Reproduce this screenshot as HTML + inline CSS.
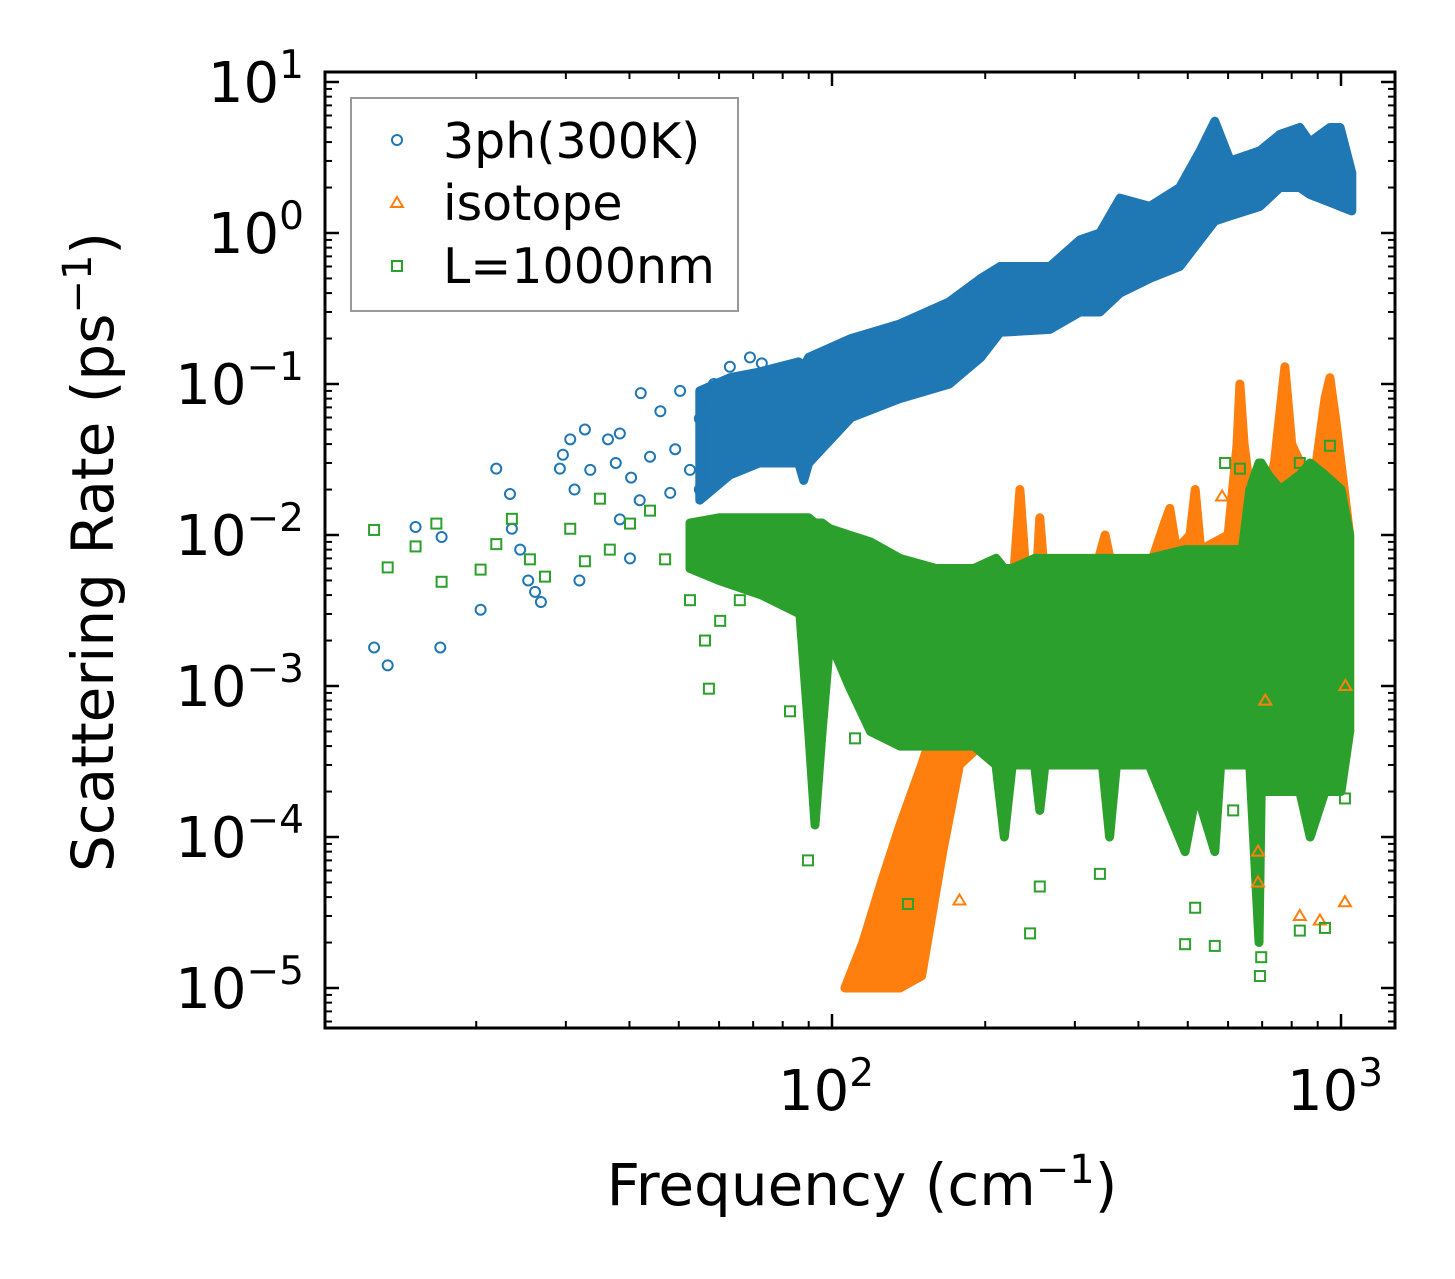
<!DOCTYPE html>
<html><head><meta charset="utf-8"><style>
html,body{margin:0;padding:0;background:#fff;}
svg{display:block;font-family:"DejaVu Sans","Liberation Sans",sans-serif;}
</style></head><body>
<svg id="chart" width="1455" height="1279" viewBox="0 0 1455 1279">
<rect x="0" y="0" width="1455" height="1279" fill="#fff"/>
<g id="bands"></g>
<g id="pts"></g>
<g id="axes"></g>
<text x="862" y="1205" font-size="58" text-anchor="middle">Frequency (cm<tspan dy="-22" font-size="40">−1</tspan><tspan dy="22">)</tspan></text>
<text transform="translate(113,552) rotate(-90)" font-size="58" text-anchor="middle">Scattering Rate (ps<tspan dy="-22" font-size="40">−1</tspan><tspan dy="22">)</tspan></text>
<g>
<rect x="351" y="98" width="387" height="213" fill="#fff" stroke="#999" stroke-width="2"/>
<g>
<circle cx="397" cy="140" r="5" fill="none" stroke="#1f77b4" stroke-width="2"/>
<text x="443" y="158" font-size="49">3ph(300K)</text></g>
<g>
<polygon points="397,197 403,207 391,207" fill="none" stroke="#ff7f0e" stroke-width="2"/>
<text x="443" y="220" font-size="49">isotope</text></g>
<g>
<rect x="392" y="261" width="10" height="10" fill="none" stroke="#2ca02c" stroke-width="2"/>
<text x="443" y="283" font-size="49">L=1000nm</text></g>
</g>
</svg>
<script>
// ---- data ----
const blueFreq=[55,63,72,86,88,90,109,136,170,196,214,268,307,336,368,421,482,529,565,606,693,759,830,869,951,996,1050];
const blueHi=[0.09,0.11,0.12,0.14,0.13,0.15,0.2,0.25,0.35,0.5,0.6,0.6,0.9,1.0,1.7,1.5,2,3.5,5.5,3,3.5,4.5,5,4,5,5,2.5];
const blueLo=[0.017,0.025,0.03,0.03,0.023,0.03,0.06,0.08,0.1,0.15,0.22,0.23,0.3,0.3,0.4,0.5,0.6,0.9,1.2,1.3,1.5,2,2,1.8,1.6,1.5,1.4];
const orangeFreq=[106,115,125,136,150,165,178,195,215,228,234,240,252,256,262,300,330,344,355,420,450,461,475,505,517,530,600,625,633,645,680,740,776,800,880,930,951,975,1000,1040];
const orangeHi=[1e-5,2e-5,5e-5,1.2e-4,3e-4,8e-4,2e-3,3e-3,4e-3,6e-3,0.02,0.006,0.005,0.013,0.005,0.005,0.006,0.01,0.006,0.006,0.012,0.015,0.008,0.01,0.02,0.008,0.01,0.04,0.1,0.04,0.01,0.03,0.13,0.04,0.02,0.08,0.11,0.06,0.03,0.01];
const orangeLo=[1e-5,1e-5,1e-5,1e-5,1.2e-5,8e-5,3e-4,4e-4,4e-4,5e-4,5e-4,5e-4,5e-4,5e-4,5e-4,5e-4,5e-4,5e-4,5e-4,5e-4,5e-4,5e-4,5e-4,5e-4,5e-4,5e-4,5e-4,5e-4,5e-4,5e-4,2e-4,5e-4,5e-4,5e-4,5e-4,5e-4,5e-4,5e-4,5e-4,5e-4];
const greenFreq=[52.6,60,72.8,86.5,90,92.6,95.6,99,108,119,136,160,190,210,218,226,250,256,262,300,340,351,362,420,494,520,565,580,640,662,690,697,720,760,830,870,930,1000,1040];
const greenHi=[0.012,0.013,0.013,0.013,0.013,0.012,0.012,0.011,0.01,0.009,0.007,0.006,0.006,0.007,0.006,0.006,0.007,0.007,0.007,0.007,0.007,0.007,0.007,0.007,0.008,0.008,0.008,0.008,0.008,0.02,0.03,0.03,0.025,0.02,0.025,0.03,0.025,0.02,0.01];
const greenLo=[0.006,0.005,0.004,0.003,0.0005,0.00012,0.0005,0.002,0.001,0.0005,0.0004,0.0004,0.0004,0.0003,0.0001,0.0003,0.0003,0.00015,0.0003,0.0003,0.0003,0.0001,0.0003,0.0003,0.00008,0.0002,0.00008,0.0003,0.0003,0.0003,0.00002,0.0002,0.0002,0.0002,0.0002,0.0001,0.0002,0.0002,0.0005];
const blueSparseF=[12.6,13.4,15.2,17.1,17.0,20.4,21.9,23.3,23.5,25.3,26.1,26.8,29.2,29.6,30.6,31.2,32.7,33.5,36.3,37.6,38.3,40.3,42.1,43.9,46.0,49.2,50.3,52.6,55.0,58.6,63.0,69.0,72.8,31.9,38.3,41.9,48.1,55.0,40.1,24.4];
const blueSparseV=[0.0018,0.00137,0.0113,0.0097,0.0018,0.0032,0.0275,0.0187,0.011,0.005,0.0042,0.0036,0.0275,0.034,0.043,0.02,0.05,0.027,0.043,0.03,0.047,0.024,0.087,0.033,0.066,0.037,0.09,0.027,0.059,0.1,0.13,0.15,0.137,0.005,0.0127,0.017,0.019,0.02,0.007,0.008];
const greenSparseF=[12.6,13.4,15.2,16.7,17.1,20.4,21.9,23.5,25.5,27.3,30.6,32.7,35.0,36.6,40.1,43.9,47.0,52.6,56.3,57.3,60.3,65.9,82.7,91.3,89.7,111,141,245,256,336,494,517,565,830,693,697,930,614,869,1018,633,830,951,592];
const greenSparseV=[0.0108,0.0061,0.0084,0.0119,0.0049,0.0059,0.0087,0.0128,0.0069,0.0053,0.011,0.0067,0.0174,0.008,0.0119,0.0145,0.0069,0.0037,0.002,0.00096,0.0027,0.0037,0.00068,0.0008,0.00007,0.00045,3.6e-5,2.3e-5,4.7e-5,5.7e-5,1.95e-5,3.4e-5,1.9e-5,2.4e-5,1.2e-5,1.6e-5,2.5e-5,1.5e-4,1.8e-4,1.8e-4,0.0275,0.03,0.039,0.03];
const orangeSparseF=[909,1018,830,687,687,1020,710,584,633,178];
const orangeSparseV=[2.8e-5,3.7e-5,3e-5,5e-5,8e-5,0.001,8e-4,0.018,0.023,3.8e-5];
const yTickExp=[-5,-4,-3,-2,-1,0,1];
const xTickExp=[2,3];

// ---- scales ----
const NS='http://www.w3.org/2000/svg';
const L=325,R=1395,T=72,B=1028;
function X(f){return 832+509*Math.log10(f/100);}
function Y(v){return 233-151*Math.log10(v);}
function mk(tag,attrs,parent){const e=document.createElementNS(NS,tag);for(const k in attrs)e.setAttribute(k,attrs[k]);parent.appendChild(e);return e;}
const bands=document.getElementById('bands'),pts=document.getElementById('pts'),axes=document.getElementById('axes');

function band(freq,lo,hi,color,name){
  const p=[];
  for(let i=0;i<freq.length;i++)p.push(X(freq[i]).toFixed(1)+','+Y(hi[i]).toFixed(1));
  for(let i=freq.length-1;i>=0;i--)p.push(X(freq[i]).toFixed(1)+','+Y(lo[i]).toFixed(1));
  const e=mk('polygon',{points:p.join(' '),fill:color,stroke:color,'stroke-width':9,'stroke-linejoin':'round'},bands);
  
  
}
function sparse(F,V,color,shape,name){
  for(let i=0;i<F.length;i++){
    const x=X(F[i]),y=Y(V[i]);let e;
    if(shape==='c')e=mk('circle',{cx:x,cy:y,r:5,fill:'none',stroke:color,'stroke-width':2},pts);
    else if(shape==='s')e=mk('rect',{x:x-5,y:y-5,width:10,height:10,fill:'none',stroke:color,'stroke-width':2},pts);
    else e=mk('polygon',{points:`${x},${y-6} ${x+6},${y+4} ${x-6},${y+4}`,fill:'none',stroke:color,'stroke-width':2},pts);
    
    
  }
}
band(blueFreq,blueLo,blueHi,'#1f77b4','band-3ph');
sparse(blueSparseF,blueSparseV,'#1f77b4','c','point-3ph');
band(orangeFreq,orangeLo,orangeHi,'#ff7f0e','band-isotope');
sparse(orangeSparseF,orangeSparseV,'#ff7f0e','t','point-isotope');
band(greenFreq,greenLo,greenHi,'#2ca02c','band-boundary');
sparse(greenSparseF,greenSparseV,'#2ca02c','s','point-boundary');

// ---- axes ----
const fr=mk('rect',{x:L,y:T,width:R-L,height:B-T,fill:'none',stroke:'#000','stroke-width':3},axes);


function tick(x1,y1,x2,y2,w){const t=mk('line',{x1,y1,x2,y2,stroke:'#000','stroke-width':w},axes);

}
for(let e=-6;e<=1;e++){
  for(let m=1;m<10;m++){
    const y=Y(m*Math.pow(10,e));if(y<T+1||y>B-1)continue;
    const len=m===1?14:7,w=m===1?2.5:2;
    tick(L,y,L+len,y,w);tick(R,y,R-len,y,w);
  }
}
for(let e=1;e<=3;e++){
  for(let m=1;m<10;m++){
    const x=X(m*Math.pow(10,e));if(x<L+1||x>R-1)continue;
    const len=m===1?14:7,w=m===1?2.5:2;
    tick(x,B,x,B-len,w);tick(x,T,x,T+len,w);
  }
}
yTickExp.forEach(e=>{
  const t=mk('text',{x:304,y:Y(Math.pow(10,e))+20,'font-size':56,'text-anchor':'end'},axes);
  
  
  t.innerHTML='10<tspan dy="-24" font-size="39">'+(e<0?'−'+(-e):e)+'</tspan>';
});
xTickExp.forEach(e=>{
  const t=mk('text',{x:X(Math.pow(10,e))-6,y:1110,'font-size':56,'text-anchor':'middle'},axes);
  
  
  t.innerHTML='10<tspan dy="-24" font-size="39">'+e+'</tspan>';
});
</script>
</body></html>
